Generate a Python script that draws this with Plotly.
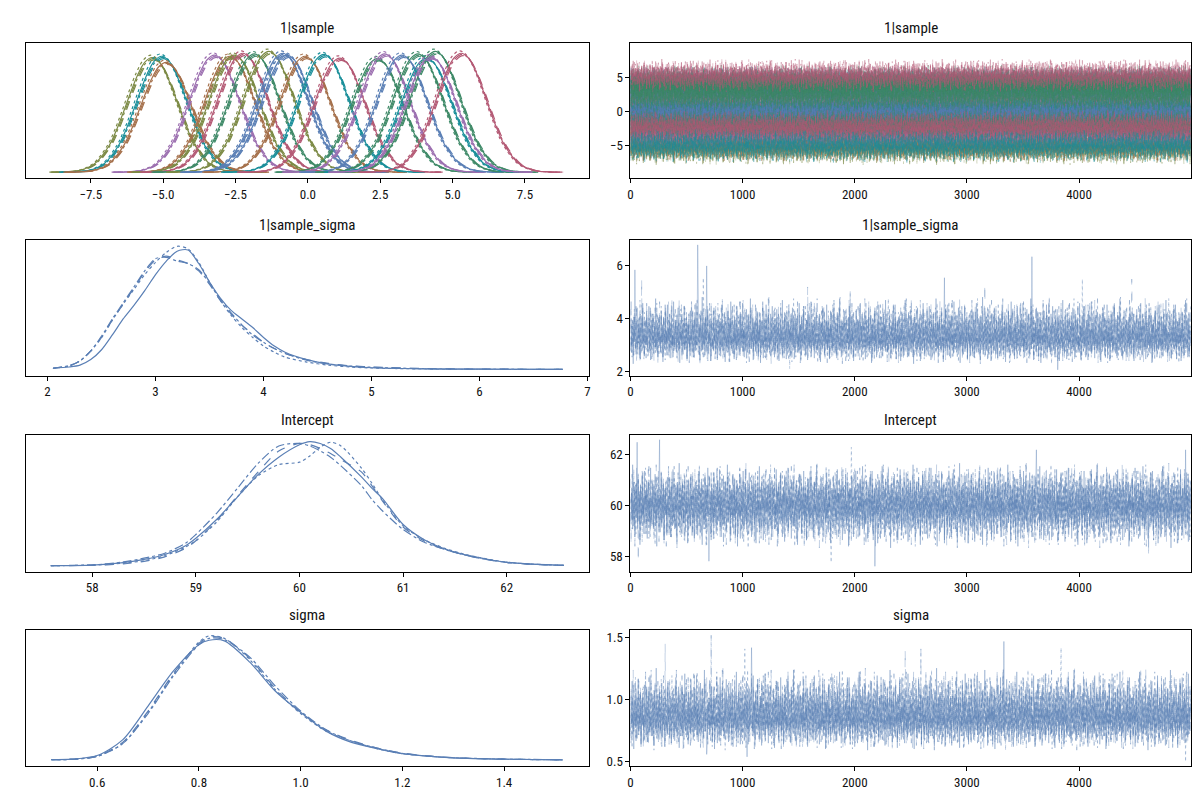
import plotly.graph_objects as go

# ---------------------------------------------------------------- data
VAR_NAMES = ["1|sample", "1|sample_sigma", "Intercept", "sigma"]
CHAIN_DASH = ["solid", "dash", "dot", "dashdot"]
N_DRAWS = 5000
STEP = 5

BLUE = "#5a7fb5"
PALETTE = {"blue": "#5a7fb5", "brown": "#a5704b", "teal": "#1b8f9a", "olive": "#7c8a45",
           "purple": "#9c6fb0", "green": "#3f8a68", "pink": "#b45a75"}

# 1|sample groups (posterior centres read from the KDE peaks)
GROUP_MEANS = [-5.38, -5.05, -4.9, -3.23, -2.7, -2.55, -2.25, -1.85, -1.35, -0.87, -0.72,
               -0.1, 0.55, 1.1, 2.4, 2.65, 3.25, 3.8, 4.1, 4.4, 4.25, 5.3]
GROUP_COLORS = ["olive", "teal", "brown", "purple", "brown", "olive", "pink", "green", "olive",
                "blue", "blue", "brown", "teal", "pink", "green", "purple", "blue", "green",
                "teal", "green", "purple", "pink"]
# stacking order of the groups in the trace panel (last drawn on top)
TRACE_DRAW_ORDER = [0, 5, 8, 2, 4, 11, 3, 15, 20, 13, 12, 18, 9, 10, 16, 7, 14, 17, 19, 6, 1, 21]
GROUP_PEAKS = [0.95, 0.96, 0.91, 0.97, 0.96, 0.97, 0.985, 0.98, 1.0, 0.985, 0.97, 0.96, 0.975,
               0.945, 0.94, 0.98, 0.97, 0.98, 0.945, 1.0, 0.955, 0.985]
GROUP_SPREAD = 0.9
PROFILE_DX = [-3.5, -3.0, -2.5, -2.0, -1.5, -1.25, -1.0, -0.75, -0.5, -0.25, 0.0, 0.25, 0.5,
              0.75, 1.0, 1.25, 1.5, 2.0, 2.5, 3.0, 3.5]
PROFILE_Y = [0.0003, 0.003, 0.016, 0.071, 0.226, 0.356, 0.517, 0.69, 0.848, 0.96, 1.0, 0.96,
             0.848, 0.69, 0.517, 0.356, 0.226, 0.071, 0.016, 0.003, 0.0003]
CHAIN_SHIFT = [0.0, 0.06, -0.05, 0.03]
CHAIN_HEIGHT = [1.0, 0.98, 1.02, 0.99]

# 1|sample_sigma KDE per chain
SS_X = [2.05, 2.2, 2.3, 2.4, 2.5, 2.6, 2.7, 2.8, 2.9, 3.0, 3.1, 3.2, 3.3, 3.4, 3.5, 3.6, 3.7,
        3.8, 3.9, 4.0, 4.1, 4.2, 4.4, 4.6, 4.8, 5.0, 5.5, 6.0, 6.77]
SS_KDE = [
    [0.01, 0.02, 0.035, 0.08, 0.16, 0.28, 0.41, 0.52, 0.64, 0.77, 0.88, 0.96, 0.97, 0.86, 0.71,
     0.58, 0.48, 0.41, 0.34, 0.26, 0.19, 0.14, 0.08, 0.045, 0.025, 0.014, 0.005, 0.002, 0.001],
    [0.01, 0.03, 0.07, 0.15, 0.26, 0.40, 0.53, 0.66, 0.79, 0.89, 0.92, 0.89, 0.86, 0.80, 0.69,
     0.56, 0.45, 0.36, 0.29, 0.22, 0.17, 0.13, 0.08, 0.05, 0.03, 0.02, 0.007, 0.003, 0.001],
    [0.01, 0.03, 0.07, 0.15, 0.26, 0.40, 0.53, 0.65, 0.77, 0.87, 0.95, 1.0, 0.98, 0.87, 0.71,
     0.56, 0.44, 0.34, 0.26, 0.19, 0.14, 0.10, 0.06, 0.035, 0.02, 0.012, 0.004, 0.002, 0.001],
    [0.01, 0.03, 0.07, 0.15, 0.27, 0.41, 0.54, 0.67, 0.80, 0.90, 0.91, 0.88, 0.86, 0.81, 0.70,
     0.57, 0.46, 0.36, 0.28, 0.22, 0.17, 0.13, 0.075, 0.045, 0.028, 0.018, 0.006, 0.003, 0.001],
]

# Intercept KDE per chain
IC_X = [57.6, 58.0, 58.3, 58.5, 58.7, 58.9, 59.0, 59.2, 59.4, 59.6, 59.8, 60.0, 60.1, 60.2,
        60.3, 60.4, 60.6, 60.7, 60.8, 61.0, 61.2, 61.4, 61.6, 61.8, 62.0, 62.2, 62.55]
IC_KDE = [
    [0.001, 0.005, 0.025, 0.05, 0.09, 0.16, 0.22, 0.37, 0.55, 0.73, 0.87, 0.97, 0.995, 0.98,
     0.94, 0.87, 0.71, 0.62, 0.54, 0.33, 0.21, 0.135, 0.086, 0.054, 0.027, 0.014, 0.002],
    [0.001, 0.003, 0.015, 0.035, 0.07, 0.14, 0.20, 0.36, 0.56, 0.75, 0.92, 0.98, 0.97, 0.94,
     0.90, 0.85, 0.75, 0.64, 0.52, 0.31, 0.20, 0.13, 0.085, 0.05, 0.026, 0.013, 0.002],
    [0.001, 0.004, 0.02, 0.04, 0.08, 0.15, 0.20, 0.35, 0.55, 0.72, 0.81, 0.83, 0.88, 0.95,
     0.99, 0.96, 0.78, 0.66, 0.53, 0.32, 0.21, 0.14, 0.09, 0.055, 0.028, 0.015, 0.002],
    [0.001, 0.006, 0.03, 0.06, 0.10, 0.18, 0.25, 0.42, 0.62, 0.82, 0.96, 0.98, 0.96, 0.92,
     0.87, 0.80, 0.64, 0.53, 0.44, 0.29, 0.19, 0.13, 0.085, 0.05, 0.027, 0.014, 0.002],
]

# sigma KDE per chain
SG_X = [0.51, 0.55, 0.6, 0.65, 0.7, 0.75, 0.8, 0.82, 0.85, 0.9, 0.95, 1.0, 1.05, 1.1, 1.15,
        1.2, 1.25, 1.3, 1.4, 1.515]
SG_KDE = [
    [0.002, 0.006, 0.035, 0.16, 0.43, 0.71, 0.92, 0.955, 0.95, 0.78, 0.55, 0.38, 0.23, 0.14,
     0.09, 0.05, 0.03, 0.017, 0.006, 0.001],
    [0.002, 0.005, 0.03, 0.14, 0.39, 0.69, 0.93, 0.98, 0.97, 0.81, 0.57, 0.38, 0.24, 0.155,
     0.095, 0.055, 0.032, 0.018, 0.006, 0.001],
    [0.002, 0.005, 0.03, 0.13, 0.38, 0.68, 0.94, 0.99, 0.97, 0.80, 0.56, 0.37, 0.23, 0.15,
     0.09, 0.05, 0.03, 0.017, 0.006, 0.001],
    [0.002, 0.005, 0.028, 0.13, 0.37, 0.67, 0.92, 0.97, 0.96, 0.82, 0.59, 0.39, 0.24, 0.15,
     0.095, 0.052, 0.03, 0.018, 0.007, 0.002],
]

# standardized trace deviations (hand-estimated wiggle of the sampler traces)
TRACE_DEV = [
    0.3, -1.2, 0.8, 1.5, -0.4, -2.1, 0.1, 0.9, -0.7, 1.8, -1.1, 0.4, -0.2, 2.2, -1.6, 0.6, -0.9, 1.1, 0.0, -1.4, 1.3, -0.5, 0.7, -2.4, 1.0,
    -0.3, 1.6, -1.0, 0.2, -1.8, 0.9, 2.5, -0.6, -0.1, 1.2, -2.0, 0.5, 1.7, -1.3, 0.3, -0.8, 1.9, -0.2, -1.5, 0.8, 0.1, -2.7, 1.4, -0.4, 0.6,
    1.0, -1.7, 0.4, 2.0, -0.9, -0.3, 1.3, -1.2, 0.7, -2.2, 1.5, 0.2, -0.6, 2.3, -1.0, 0.0, -1.9, 1.1, 0.5, -0.7, 1.8, -1.4, 0.3, -0.1, 2.1,
    -1.1, 0.6, -2.3, 1.2, 0.9, -0.5, 1.6, -1.6, 0.2, 0.8, -0.9, 2.6, -1.3, -0.2, 1.0, -2.0, 0.4, 1.4, -0.8, 0.1, -1.5, 1.7, -0.4, 0.9, -2.5,
    1.3, 0.0, -1.0, 1.9, -0.6, 0.5, -1.8, 2.2, -0.3, 0.7, -1.2, 1.1, -2.1, 0.3, 1.5, -0.7, 0.2, -1.6, 2.4, -0.9, 0.6, -0.1, 1.2, -1.4, 0.8,
    -0.5, 2.0, -1.3, 0.4, -2.6, 1.0, 0.3, -0.8, 1.6, -0.2, -1.7, 0.9, 2.1, -1.1, 0.1, -0.4, 1.4, -2.2, 0.7, 1.1, -0.6, 0.2, -1.9, 1.8, -0.3,
    0.6, -1.4, 1.7, -0.1, -2.0, 1.2, 0.5, -1.0, 2.3, -0.7, 0.0, -1.5, 1.3, -0.4, 0.9, -2.3, 1.5, 0.2, -0.9, 2.7, -1.2, 0.4, -0.6, 1.0, -1.8,
    1.4, -0.2, -1.1, 0.8, 1.9, -1.6, 0.3, -0.5, 1.1, -2.4, 0.7, 1.6, -0.8, 0.0, -1.3, 2.0, -0.3, 0.6, -1.7, 1.2, -0.1, -2.1, 0.9, 1.5, -1.0,
    -0.4, 1.1, -1.9, 0.5, 2.2, -0.6, -1.2, 0.8, -0.2, 1.7, -2.5, 0.4, 1.0, -0.9, 0.2, 1.8, -1.5, -0.3, 1.3, -0.7, 2.4, -1.1, 0.1, -1.6, 0.7,
    0.9, -2.2, 1.4, -0.5, 0.3, -1.3, 2.1, -0.8, 0.6, -0.1, -1.8, 1.2, 0.0, 1.6, -1.0, -0.4, 2.3, -1.4, 0.5, -2.0, 1.0, 0.2, -0.7, 1.9, -1.2,
    -0.2, 1.5, -0.9, -1.6, 0.8, 2.6, -1.1, 0.3, -0.6, 1.3, -2.3, 0.7, -0.3, 1.0, -1.4, 2.0, 0.1, -0.8, 1.7, -1.9, 0.4, -0.5, 1.2, -2.6, 0.9,
    1.1, -0.7, 0.2, -2.1, 1.8, -0.4, 0.6, -1.2, 2.2, -0.1, -1.5, 0.9, 1.4, -1.0, 0.0, -1.7, 1.6, -0.3, 0.5, 2.1, -1.3, -0.6, 0.8, -2.0, 1.3,
    -0.8, 0.4, 1.9, -1.4, -0.2, 1.0, -2.4, 0.7, 1.2, -0.5, 0.3, -1.1, 2.5, -0.9, 0.1, -1.6, 1.4, -0.2, 0.6, -2.2, 1.7, 0.0, -1.0, 1.1, -0.4,
    0.5, -1.9, 1.3, 0.2, -0.7, 2.0, -1.3, 0.9, -0.3, -2.0, 1.6, -0.6, 0.4, 1.1, -1.5, 0.2, -0.9, 2.3, -1.2, 0.8, -0.1, -1.8, 1.5, -0.5, 0.3,
    2.1, -1.0, -0.3, 0.7, -1.7, 1.2, 0.1, -2.3, 1.8, -0.4, 0.6, -1.1, 0.9, 2.4, -1.4, -0.2, 1.0, -0.8, 0.3, -2.1, 1.4, -0.6, 0.2, 1.7, -1.3,
    -0.1, 0.8, -1.5, 1.6, -0.7, -2.5, 1.1, 0.4, -0.9, 1.9, -0.3, 0.5, -1.8, 1.2, 0.0, -0.6, 2.2, -1.2, 0.7, -1.0, 1.3, -2.2, 0.3, 0.9, -0.5,
    1.7, -1.3, 0.2, -0.8, 2.0, -0.2, -1.6, 1.0, 0.6, -2.1, 1.5, -0.4, 0.1, -1.2, 2.6, -0.9, 0.4, 1.1, -1.9, 0.0, 0.8, -0.5, -1.4, 1.8, -0.7,
    0.2, 1.2, -2.0, 0.6, -0.3, 1.4, -1.1, 2.1, -0.6, 0.3, -1.7, 0.9, -0.1, 1.6, -2.4, 0.5, 1.0, -0.7, -1.3, 1.9, -0.2, 0.7, -1.6, 1.1, 0.0,
    -1.2, 2.3, -0.4, 0.8, -1.8, 0.1, 1.3, -0.9, -0.2, 1.7, -2.2, 0.6, 1.2, -1.0, 0.4, -0.5, 2.0, -1.5, 0.3, -0.8, 1.5, -2.6, 0.9, -0.3, 1.0,
    0.4, -1.4, 1.8, -0.6, 0.2, -2.0, 1.1, 0.7, -1.1, 2.2, -0.7, 0.0, -1.3, 1.4, -0.2, 0.6, -1.9, 1.6, -0.4, 0.9, -1.0, 2.5, -0.8, 0.3, -1.5,
]

# per-variable trace centre and lower / upper spread, plus the visible extreme draws
SS_TRACE = {"center": 3.25, "down": 0.36, "up": 0.58,
            "spikes": [(40, 5.85, 0), (100, 5.5, 1), (600, 6.8, 0), (650, 5.55, 2), (680, 6.0, 0),
                       (1580, 5.2, 1), (1960, 5.05, 3), (2800, 5.55, 0), (3160, 5.3, 1),
                       (3580, 6.35, 0), (4030, 5.5, 2), (4470, 5.5, 1), (3810, 2.05, 0), (1420, 2.1, 2)]}
IC_TRACE = {"center": 60.0, "down": 0.62, "up": 0.62,
            "spikes": [(60, 62.5, 0), (260, 62.6, 0), (1970, 62.3, 2), (3620, 62.2, 0), (4950, 62.2, 0),
                       (700, 57.8, 0), (1790, 57.75, 2), (2180, 57.6, 0), (70, 57.8, 1), (4620, 58.1, 3)]}
SG_TRACE = {"center": 0.85, "down": 0.095, "up": 0.15,
            "spikes": [(720, 1.52, 3), (3330, 1.47, 0), (310, 1.45, 1), (1080, 1.42, 0),
                       (1020, 1.41, 2), (2450, 1.40, 1), (2590, 1.41, 3), (3840, 1.42, 2),
                       (1040, 0.54, 0), (680, 0.56, 0), (4950, 0.5, 2)]}

# axis settings (ranges)
LEFT_RANGES = [[-9.74, 9.70], [1.80, 7.01], [57.36, 62.79], [0.46, 1.566]]
LEFT_TICKS = [[-7.5, -5.0, -2.5, 0.0, 2.5, 5.0, 7.5], [2, 3, 4, 5, 6, 7], [58, 59, 60, 61, 62],
              [0.6, 0.8, 1.0, 1.2, 1.4]]
LEFT_FMT = [".1f", "d", "d", ".1f"]
RIGHT_YRANGES = [[-9.8, 10.1], [1.83, 6.98], [57.38, 62.77], [0.465, 1.565]]
RIGHT_YTICKS = [[-5, 0, 5], [2, 4, 6], [58, 60, 62], [0.5, 1.0, 1.5]]
RIGHT_FMT = ["d", "d", "d", ".1f"]
TRACE_XTICKS = [0, 1000, 2000, 3000, 4000]

# ---------------------------------------------------------------- layout geometry (px)
W, H = 1200, 800
LEFT_X = (15, 580)
RIGHT_X = (622, 1185)
ROWS_Y = [(35, 171), (233, 369), (429, 566), (624, 761)]
FONT = "Liberation Sans Narrow, Roboto Condensed, Arial Narrow, Roboto, sans-serif"


def rgba(hexc, a):
    hexc = hexc.lstrip("#")
    r, g, b = int(hexc[0:2], 16), int(hexc[2:4], 16), int(hexc[4:6], 16)
    return f"rgba({r},{g},{b},{a})"


def trace_values(spec, chain, off):
    n = N_DRAWS // STEP
    vals = []
    for i in range(n):
        d = TRACE_DEV[(i + off) % len(TRACE_DEV)]
        vals.append(spec["center"] + (spec["up"] if d > 0 else spec["down"]) * d)
    for draw, v, c in spec["spikes"]:
        if c == chain:
            vals[draw // STEP] = v
    return vals


DRAW_X = list(range(0, N_DRAWS, STEP))

fig = go.Figure()


def ax(i):
    return ("x" if i == 1 else f"x{i}"), ("y" if i == 1 else f"y{i}")


kde_max = [0, 0, 0, 0]

# ---- row 1 : 1|sample
xa, ya = ax(1)
for g, m in enumerate(GROUP_MEANS):
    col = PALETTE[GROUP_COLORS[g]]
    for c in range(4):
        xs = [m + CHAIN_SHIFT[c] + dx for dx in PROFILE_DX]
        ys = [GROUP_PEAKS[g] * CHAIN_HEIGHT[c] * p for p in PROFILE_Y]
        kde_max[0] = max(kde_max[0], max(ys))
        fig.add_trace(go.Scatter(x=xs, y=ys, mode="lines", xaxis=xa, yaxis=ya,
                                 line=dict(color=col, width=1.2, dash=CHAIN_DASH[c], shape="spline",
                                           smoothing=1.0),
                                 hoverinfo="skip"))
xa, ya = ax(2)
for g in TRACE_DRAW_ORDER:
    m = GROUP_MEANS[g]
    col = PALETTE[GROUP_COLORS[g]]
    spec = {"center": m, "down": GROUP_SPREAD, "up": GROUP_SPREAD, "spikes": []}
    for c in range(4):
        ys = trace_values(spec, c, (g * 53 + c * 131) % len(TRACE_DEV))
        fig.add_trace(go.Scatter(x=DRAW_X, y=ys, mode="lines", xaxis=xa, yaxis=ya,
                                 line=dict(color=rgba(col, 0.35), width=1, dash=CHAIN_DASH[c]),
                                 hoverinfo="skip"))

# ---- rows 2-4 : scalar variables
for r, (kx, kys, spec) in enumerate([(SS_X, SS_KDE, SS_TRACE), (IC_X, IC_KDE, IC_TRACE),
                                     (SG_X, SG_KDE, SG_TRACE)], start=1):
    xa, ya = ax(2 * r + 1)
    for c in range(4):
        kde_max[r] = max(kde_max[r], max(kys[c]))
        fig.add_trace(go.Scatter(x=kx, y=kys[c], mode="lines", xaxis=xa, yaxis=ya,
                                 line=dict(color=BLUE, width=1.2, dash=CHAIN_DASH[c], shape="spline",
                                           smoothing=0.8),
                                 hoverinfo="skip"))
    xa, ya = ax(2 * r + 2)
    for c in range(4):
        fig.add_trace(go.Scatter(x=DRAW_X, y=trace_values(spec, c, c * 127 + r * 41), mode="lines",
                                 xaxis=xa, yaxis=ya,
                                 line=dict(color=rgba(BLUE, 0.36), width=1, dash=CHAIN_DASH[c]),
                                 hoverinfo="skip"))

# ---------------------------------------------------------------- axes
layout = dict(width=W, height=H, margin=dict(l=0, r=0, t=0, b=0), showlegend=False,
              paper_bgcolor="white", plot_bgcolor="white",
              font=dict(family=FONT, size=13, color="#111111"))
common = dict(showline=True, linecolor="black", linewidth=1, mirror=True, showgrid=False,
              zeroline=False, ticks="outside", ticklen=4, tickcolor="black", tickwidth=1,
              tickfont=dict(family=FONT, size=13, color="#111111"))
annotations = []
for r in range(4):
    y0, y1 = ROWS_Y[r]
    dom_y = [1 - y1 / H, 1 - y0 / H]
    li, ri = 2 * r + 1, 2 * r + 2
    lname = "xaxis" if li == 1 else f"xaxis{li}"
    layout[lname] = dict(common, domain=[LEFT_X[0] / W, LEFT_X[1] / W], anchor=ax(li)[1],
                         range=LEFT_RANGES[r], tickvals=LEFT_TICKS[r], tickformat=LEFT_FMT[r])
    layout["yaxis" if li == 1 else f"yaxis{li}"] = dict(
        common, domain=dom_y, anchor=ax(li)[0], ticks="", showticklabels=False,
        range=[-0.05 * kde_max[r], 1.05 * kde_max[r]])
    layout[f"xaxis{ri}"] = dict(common, domain=[RIGHT_X[0] / W, RIGHT_X[1] / W], anchor=ax(ri)[1],
                                range=[0, N_DRAWS - 1], tickvals=TRACE_XTICKS, tickformat="d")
    layout[f"yaxis{ri}"] = dict(common, domain=dom_y, anchor=ax(ri)[0], range=RIGHT_YRANGES[r],
                                tickvals=RIGHT_YTICKS[r], tickformat=RIGHT_FMT[r])
    for xd in (LEFT_X, RIGHT_X):
        annotations.append(dict(text=VAR_NAMES[r], xref="paper", yref="paper",
                                x=(xd[0] + xd[1]) / 2 / W, y=dom_y[1], xanchor="center",
                                yanchor="bottom", yshift=4, showarrow=False,
                                font=dict(family=FONT, size=15, color="#111111")))
layout["annotations"] = annotations
fig.update_layout(**layout)

fig.write_html("out.html")
